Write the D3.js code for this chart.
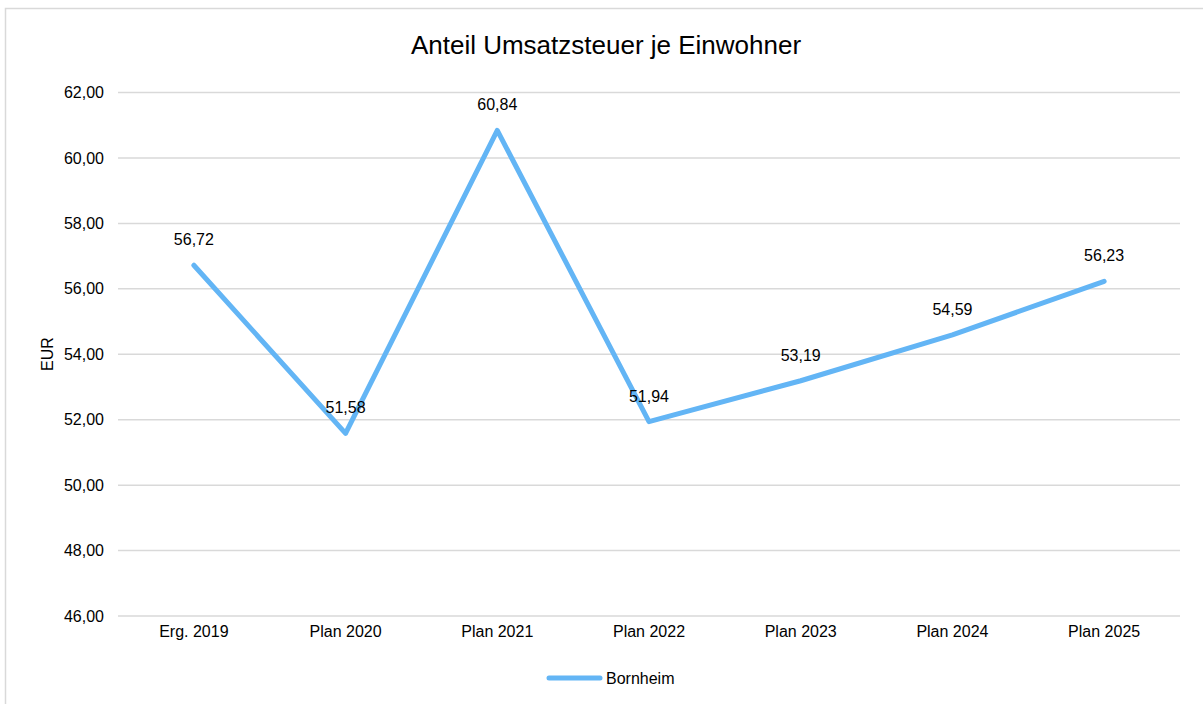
<!DOCTYPE html>
<html>
<head>
<meta charset="utf-8">
<script src="https://cdn.jsdelivr.net/npm/d3@7"></script>
<style>
  body { margin: 0; background: #fff; }
  svg { display: block; font-family: "Liberation Sans", Arial, sans-serif; }
</style>
</head>
<body>
<svg id="chart" width="1203" height="704"></svg>
<script>
// data
var categories = ['Erg. 2019', 'Plan 2020', 'Plan 2021', 'Plan 2022', 'Plan 2023', 'Plan 2024', 'Plan 2025'];
var bornheim = [56.72, 51.58, 60.84, 51.94, 53.19, 54.59, 56.23];
var yTicks = [46, 48, 50, 52, 54, 56, 58, 60, 62];
var seriesName = 'Bornheim';
var chartTitle = 'Anteil Umsatzsteuer je Einwohner';
var yTitle = 'EUR';

var lineColor = '#63b5f5',
  gridColor = '#d9d9d9',
  textColor = '#000';

var svg = d3.select('#chart');
var fmt = function (v) { return v.toFixed(2).replace('.', ','); };

// outer frame
svg.append('rect')
  .attr('x', 5.5).attr('y', 8.5)
  .attr('width', 1300).attr('height', 800)
  .attr('fill', '#fff')
  .attr('stroke', gridColor)
  .attr('stroke-width', 1.5);

var x = d3.scaleBand().domain(categories).range([118, 1180]);
var y = d3.scaleLinear().domain([46, 62]).range([616, 92.5]);

// title
svg.append('text')
  .attr('x', 606).attr('y', 54)
  .attr('text-anchor', 'middle')
  .style('font-size', '26px')
  .attr('fill', textColor)
  .text(chartTitle);

// grid
svg.append('g')
  .selectAll('line')
  .data(yTicks)
  .enter().append('line')
  .attr('x1', 118).attr('x2', 1180)
  .attr('y1', function (d) { return y(d); })
  .attr('y2', function (d) { return y(d); })
  .attr('stroke', gridColor)
  .attr('stroke-width', 1.5);

// y axis
var yAxis = svg.append('g')
  .attr('transform', 'translate(110,0)')
  .call(d3.axisLeft(y).tickValues(yTicks).tickFormat(fmt).tickSize(0).tickPadding(6));
yAxis.select('.domain').remove();
yAxis.selectAll('text')
  .style('font-size', '16px')
  .style('font-family', '"Liberation Sans", Arial, sans-serif')
  .attr('fill', textColor);

// x axis
var xAxis = svg.append('g')
  .attr('transform', 'translate(0,616)')
  .call(d3.axisBottom(x).tickSize(0).tickPadding(10));
xAxis.select('.domain').remove();
xAxis.selectAll('text')
  .style('font-size', '16px')
  .style('font-family', '"Liberation Sans", Arial, sans-serif')
  .attr('fill', textColor);

// y title
svg.append('text')
  .attr('transform', 'translate(53,354) rotate(-90)')
  .attr('text-anchor', 'middle')
  .style('font-size', '16px')
  .attr('fill', textColor)
  .text(yTitle);

// line
var line = d3.line()
  .x(function (d, i) { return x(categories[i]) + x.bandwidth() / 2; })
  .y(function (d) { return y(d); });

svg.append('path')
  .datum(bornheim)
  .attr('d', line)
  .attr('fill', 'none')
  .attr('stroke', lineColor)
  .attr('stroke-width', 5)
  .attr('stroke-linejoin', 'round')
  .attr('stroke-linecap', 'round');

// data labels
svg.append('g')
  .selectAll('text')
  .data(bornheim)
  .enter().append('text')
  .attr('x', function (d, i) { return x(categories[i]) + x.bandwidth() / 2; })
  .attr('y', function (d) { return y(d) - 20; })
  .attr('text-anchor', 'middle')
  .style('font-size', '16px')
  .attr('fill', textColor)
  .text(fmt);

// legend
var legend = svg.append('g');
legend.append('line')
  .attr('x1', 549).attr('x2', 600)
  .attr('y1', 678).attr('y2', 678)
  .attr('stroke', lineColor)
  .attr('stroke-width', 5)
  .attr('stroke-linecap', 'round');
legend.append('text')
  .attr('x', 606).attr('y', 684)
  .style('font-size', '16px')
  .attr('fill', textColor)
  .text(seriesName);
</script>
</body>
</html>
